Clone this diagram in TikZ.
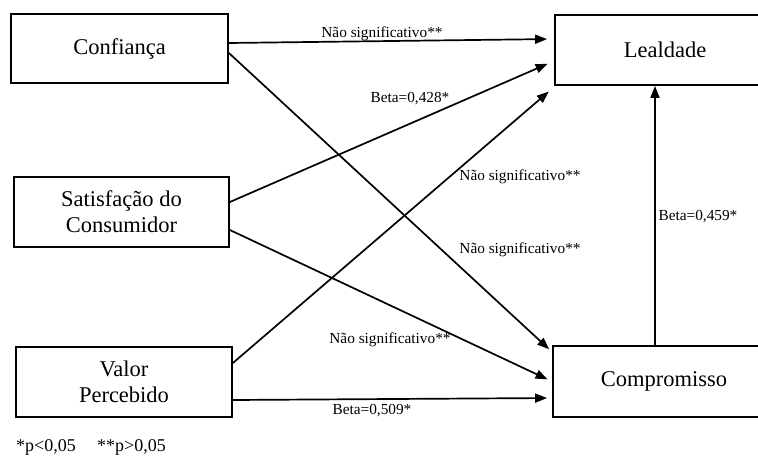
\documentclass[tikz,border=0pt]{standalone}
\usepackage{fontspec}
\setmainfont{Liberation Serif}
\usetikzlibrary{arrows.meta}
\begin{document}
\begin{tikzpicture}[x=1pt,y=-1pt,
  construct/.style={draw,line width=1.8pt,minimum height=70pt,align=center,
    inner sep=0pt,font=\fontsize{22.5}{26}\selectfont},
  link/.style={line width=1.7pt,-{Triangle[length=12pt,width=9pt]}},
  coef/.style={inner sep=0pt,font=\fontsize{15.3}{18}\selectfont},
  note/.style={inner sep=0pt,anchor=west,font=\fontsize{18}{20}\selectfont}]
\useasboundingbox (0,0) rectangle (758,463);
\clip (0,0) rectangle (758,463);

% constructs of the model
\node[construct,minimum width=217pt,minimum height=69pt] (conf) at (119.5,48.5) {Confiança};
\node[construct,minimum width=215pt] (sat) at (121.5,212) {Satisfação do\\Consumidor};
\node[construct,minimum width=216pt] (val) at (124,382) {Valor\\Percebido};
\node[construct,minimum width=220pt] (leal) at (665,50) {Lealdade};
\node[construct,minimum width=222pt,minimum height=71pt] (comp) at (664,381.5) {Compromisso};

% structural paths
\draw[link,shorten >=7pt] ([yshift=5.5pt]conf.east) -- ([yshift=11pt]leal.west);
\draw[link,shorten >=4pt] ([yshift=-4.5pt]conf.east) -- ([yshift=29.5pt]comp.west);
\draw[link,shorten >=7pt] ([yshift=10pt]sat.east) -- ([yshift=-11pt]leal.west);
\draw[link,shorten >=5pt] ([yshift=-18pt]sat.east) -- ([yshift=0pt]comp.west);
\draw[link,shorten >=7pt] ([yshift=19pt]val.east) -- ([yshift=-37pt]leal.west);
\draw[link,shorten >=5pt] ([yshift=-18pt]val.east) -- ([yshift=-16.5pt]comp.west);
\draw[link] ([xshift=-9pt]comp.north) -- ([xshift=-10pt]leal.south);

% path coefficients
\node[coef] (c1) at (382,34) {Não significativo**};
\node[coef] (c2) at (410,99) {Beta=0,428*};
\node[coef] (c3) at (520,177) {Não significativo**};
\node[coef] (c4) at (520,250) {Não significativo**};
\node[coef] (c5) at (390,340) {Não significativo**};
\node[coef] (c6) at (372,411) {Beta=0,509*};
\node[coef] (c7) at (698,217) {Beta=0,459*};

% significance legend
\node[note] (n1) at (16,447) {*p<0,05};
\node[note] (n2) at (97,447) {**p>0,05};
\end{tikzpicture}
\end{document}
